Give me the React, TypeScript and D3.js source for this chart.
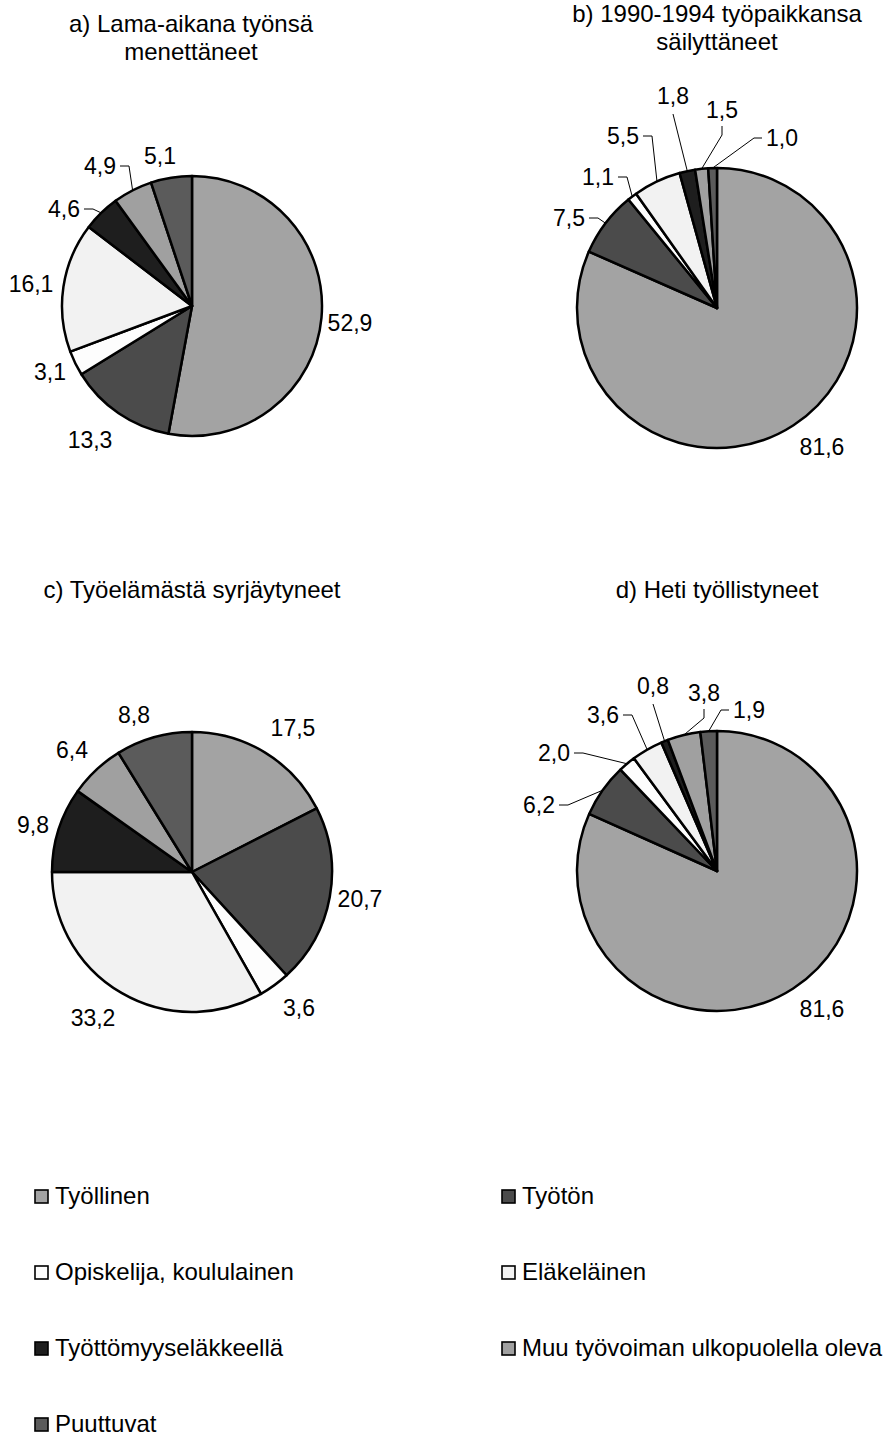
import React, { useEffect, useRef } from 'react';
import * as d3 from 'd3';

const categories = [
  'Työllinen',
  'Työtön',
  'Opiskelija, koululainen',
  'Eläkeläinen',
  'Työttömyyseläkkeellä',
  'Muu työvoiman ulkopuolella oleva',
  'Puuttuvat',
];
const colors = ['#a3a3a3', '#4b4b4b', '#fdfdfd', '#f2f2f2', '#1e1e1e', '#a0a0a0', '#5b5b5b'];

const valuesA = [52.9, 13.3, 3.1, 16.1, 4.6, 4.9, 5.1];
const valuesB = [81.6, 7.5, 1.1, 5.5, 1.8, 1.5, 1.0];
const valuesC = [17.5, 20.7, 3.6, 33.2, 9.8, 6.4, 8.8];
const valuesD = [81.6, 6.2, 2.0, 3.6, 0.8, 3.8, 1.9];

const titleA = ['a) Lama-aikana työnsä', 'menettäneet'];
const titleB = ['b) 1990-1994 työpaikkansa', 'säilyttäneet'];
const titleC = ['c) Työelämästä syrjäytyneet'];
const titleD = ['d) Heti työllistyneet'];

// label layout: offset of label centre from pie centre, and leader style
type Leader = 'none' | 'R' | 'L' | 'B' | 'BK';
const labelsA: [number, number, Leader][] = [
  [158, 17, 'none'], [-102, 134, 'none'], [-142, 66, 'none'], [-161, -22, 'none'],
  [-128, -97, 'R'], [-92, -140, 'R'], [-32, -150, 'none'],
];
const labelsB: [number, number, Leader][] = [
  [105, 139, 'none'], [-148, -90, 'R'], [-119, -131, 'R'], [-94, -172, 'R'],
  [-44, -212, 'B'], [5, -198, 'BK'], [65, -170, 'L'],
];
const labelsC: [number, number, Leader][] = [
  [101, -144, 'none'], [168, 27, 'none'], [107, 136, 'none'], [-99, 146, 'none'],
  [-159, -47, 'none'], [-120, -122, 'none'], [-58, -157, 'none'],
];
const labelsD: [number, number, Leader][] = [
  [105, 138, 'none'], [-178, -66, 'R'], [-163, -118, 'R'], [-114, -156, 'R'],
  [-64, -185, 'B'], [-13, -178, 'BK'], [32, -161, 'L'],
];

const FONT = '"Liberation Sans", Arial, Helvetica, sans-serif';

const App: React.FC = () => {
  const svgRef = useRef<SVGSVGElement>(null);

  useEffect(() => {
    if (!svgRef.current) return;
    const svg = d3.select(svgRef.current);
    svg.selectAll('*').remove();

    const fmt = (v: number) => d3.format('.1f')(v).replace('.', ',');

    const pies = [
      { values: valuesA, labels: labelsA, title: titleA, cx: 192, cy: 306, r: 130, tx: 191, ty: 32 },
      { values: valuesB, labels: labelsB, title: titleB, cx: 717, cy: 308, r: 140, tx: 717, ty: 22 },
      { values: valuesC, labels: labelsC, title: titleC, cx: 192, cy: 872, r: 140, tx: 192, ty: 598 },
      { values: valuesD, labels: labelsD, title: titleD, cx: 717, cy: 871, r: 140, tx: 717, ty: 598 },
    ];

    pies.forEach(p => {
      // Title
      p.title.forEach((line, i) => {
        svg.append('text')
          .attr('x', p.tx)
          .attr('y', p.ty + i * 28)
          .attr('text-anchor', 'middle')
          .attr('font-family', FONT)
          .attr('font-size', 24)
          .attr('fill', '#000')
          .text(line);
      });

      const pie = d3.pie<number>().sort(null).value(d => d);
      const arcs = pie(p.values);
      const arc = d3.arc<d3.PieArcDatum<number>>().innerRadius(0).outerRadius(p.r);

      const g = svg.append('g').attr('transform', `translate(${p.cx},${p.cy})`);

      g.selectAll('.slice')
        .data(arcs)
        .enter()
        .append('path')
        .attr('class', 'slice')
        .attr('d', arc)
        .attr('fill', (_, i) => colors[i])
        .attr('stroke', '#000')
        .attr('stroke-width', 2.5)
        .attr('stroke-linejoin', 'round');

      arcs.forEach((a, i) => {
        const [dx, dy, leader] = p.labels[i];
        const t = g.append('text')
          .attr('x', dx)
          .attr('y', dy)
          .attr('text-anchor', 'middle')
          .attr('dominant-baseline', 'central')
          .attr('font-family', FONT)
          .attr('font-size', 23)
          .attr('fill', '#000')
          .text(fmt(a.data));

        if (leader === 'none') return;
        const w = (t.node() as SVGTextElement).getComputedTextLength();
        const mid = (a.startAngle + a.endAngle) / 2;
        const ax = Math.sin(mid) * p.r;
        const ay = -Math.cos(mid) * p.r;
        let pts: [number, number][] = [];
        if (leader === 'R') {
          const sx = dx + w / 2 + 4;
          pts = [[sx, dy], [sx + 9, dy], [ax, ay]];
        } else if (leader === 'L') {
          const sx = dx - w / 2 - 4;
          pts = [[sx, dy], [sx - 8, dy], [ax, ay]];
        } else if (leader === 'B') {
          pts = [[dx, dy + 18], [ax, ay]];
        } else {
          pts = [[dx, dy + 16], [dx, dy + 25], [ax, ay]];
        }
        g.append('path')
          .attr('d', d3.line()(pts))
          .attr('fill', 'none')
          .attr('stroke', '#000')
          .attr('stroke-width', 1);
      });
    });

    // Legend
    const legend = svg.append('g');
    categories.forEach((c, i) => {
      const col = i % 2;
      const row = Math.floor(i / 2);
      const x = col === 0 ? 35 : 502;
      const y = 1204 + row * 76;
      legend.append('rect')
        .attr('x', x)
        .attr('y', y - 14)
        .attr('width', 13)
        .attr('height', 13)
        .attr('fill', colors[i])
        .attr('stroke', '#000')
        .attr('stroke-width', 1.6);
      legend.append('text')
        .attr('x', x + 20)
        .attr('y', y)
        .attr('font-family', FONT)
        .attr('font-size', 24)
        .attr('fill', '#000')
        .text(c);
    });
  }, []);

  return (
    <svg
      ref={svgRef}
      width={888}
      height={1438}
      style={{ position: 'absolute', left: 0, top: 0, background: '#fff', display: 'block' }}
    />
  );
};

export default App;
